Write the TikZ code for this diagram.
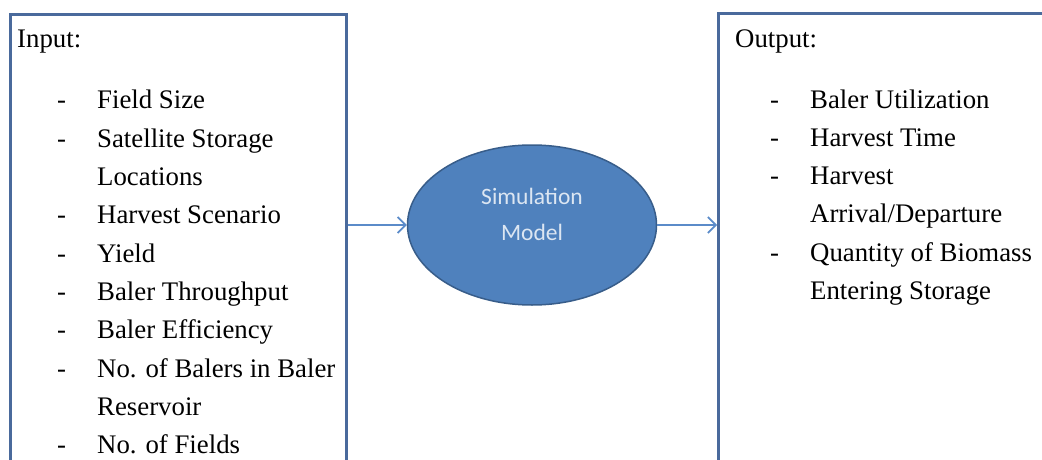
\documentclass[tikz,border=0pt]{standalone}
\usepackage{fontspec}
\setmainfont{Liberation Serif}
\newfontfamily\calfont{Carlito}
\usetikzlibrary{arrows.meta,shapes.geometric}
\definecolor{frameblue}{HTML}{4A6A9C}
\definecolor{modelfill}{HTML}{4F81BD}
\definecolor{modeledge}{HTML}{385D8A}
\definecolor{arrowblue}{HTML}{5B8BC9}
\definecolor{modeltext}{HTML}{DCE6F2}
\tikzset{
  panel/.style={draw=frameblue,line width=2.6pt,anchor=north west,inner sep=0pt},
  listtext/.style={anchor=base west,inner sep=0pt,font=\fontsize{26.8}{38.3}\selectfont},
  flow/.style={draw=arrowblue,line width=1.6pt,-{Straight Barb[length=8pt,width=16pt,line width=1.6pt]}}
}
\begin{document}
\begin{tikzpicture}[x=1pt,y=-1pt]
\useasboundingbox (0,0) rectangle (1042,460);
\node[panel,minimum width=336pt,minimum height=480pt] (inbox) at (9,13) {};
\node[panel,minimum width=360pt,minimum height=480pt] (outbox) at (717,12) {};
\node[ellipse,fill=modelfill,draw=modeledge,line width=1.5pt,minimum width=249pt,minimum height=160pt,inner sep=0pt] (model) at (532,225) {};
\node[align=center,text=modeltext,font=\calfont\fontsize{23.5}{36}\selectfont] (modellabel) at (532,214) {Simulation\\Model};
\node[listtext] (intitle) at (17,48) {Input:};
\node[listtext] (inlist) at (57,109) {\begin{tabular}[t]{@{}p{40pt}@{}l@{}}
-& Field Size\\
-& Satellite Storage\\
 & Locations\\
-& Harvest Scenario\\
-& Yield\\
-& Baler Throughput\\
-& Baler Efficiency\\
-& No. of Balers in Baler\\
 & Reservoir\\
-& No. of Fields
\end{tabular}};
\node[listtext] (outtitle) at (735,48) {Output:};
\node[listtext] (outlist) at (770,108) {\begin{tabular}[t]{@{}p{40pt}@{}l@{}}
-& Baler Utilization\\
-& Harvest Time\\
-& Harvest\\
 & Arrival/Departure\\
-& Quantity of Biomass\\
 & Entering Storage
\end{tabular}};
\draw[flow] (inbox.east |- model.west) -- (model.west);
\draw[flow] (model.east) -- (outbox.west |- model.east);
\end{tikzpicture}
\end{document}
